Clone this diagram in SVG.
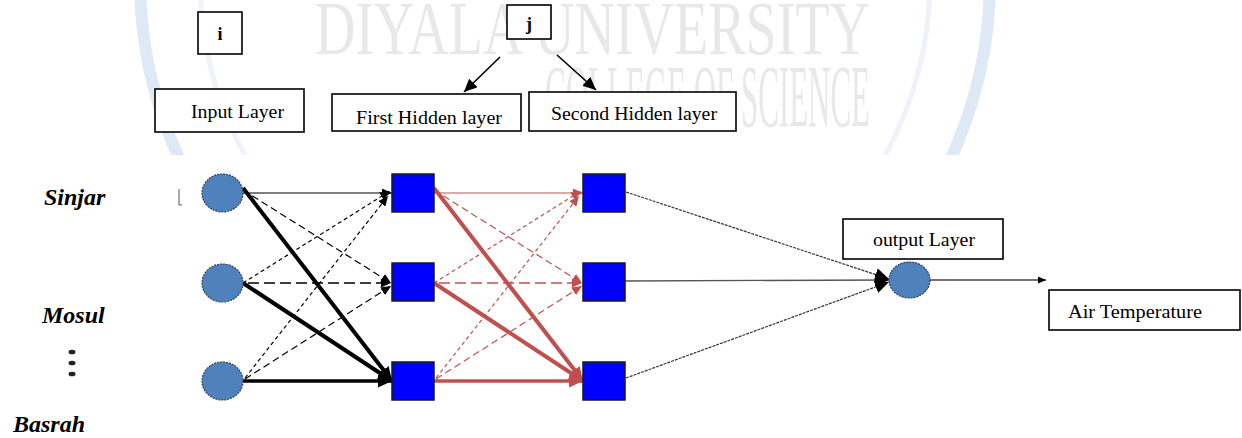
<svg xmlns="http://www.w3.org/2000/svg" width="1242" height="438" viewBox="0 0 1242 438">
  <style>
    .lbl { font-family: "Liberation Serif", "Times New Roman", serif; fill: #000; }
    .city { font-family: "Liberation Serif", "Times New Roman", serif; font-weight: bold; font-style: italic; font-size: 24px; fill: #000; }
    .box { fill: #fff; stroke: #000; stroke-width: 1.6; }
    .inp { fill: #4f81bd; stroke: #2f3f55; stroke-width: 1.2; stroke-dasharray: 2 1; }
    .sq { fill: #0000ff; stroke: #1a1a1a; stroke-width: 1.5; }
    .k { stroke: #000; fill: none; }
    .r { stroke: #c0504d; fill: none; }
    .thin { stroke-width: 1.2; }
    .thick { stroke-width: 4; }
    .d1 { stroke-dasharray: 4 3; }
    .d2 { stroke-dasharray: 7 4; }
    .d3 { stroke-dasharray: 11 5; }
    .wm { font-family: "Liberation Serif", "Times New Roman", serif; fill: #e8e8e8; }
  </style>
  <defs>
    <marker id="ak" markerUnits="userSpaceOnUse" markerWidth="11" markerHeight="9" refX="10" refY="4.5" orient="auto">
      <path d="M0,0 L10,4.5 L0,9 z" fill="#000"/>
    </marker>
    <marker id="akB" markerUnits="userSpaceOnUse" markerWidth="15" markerHeight="13" refX="14" refY="6.5" orient="auto">
      <path d="M0,0 L14,6.5 L0,13 z" fill="#000"/>
    </marker>
    <marker id="ar" markerUnits="userSpaceOnUse" markerWidth="11" markerHeight="9" refX="10" refY="4.5" orient="auto">
      <path d="M0,0 L10,4.5 L0,9 z" fill="#c0504d"/>
    </marker>
    <marker id="arB" markerUnits="userSpaceOnUse" markerWidth="15" markerHeight="13" refX="14" refY="6.5" orient="auto">
      <path d="M0,0 L14,6.5 L0,13 z" fill="#c0504d"/>
    </marker>
    <marker id="aj" markerUnits="userSpaceOnUse" markerWidth="14" markerHeight="12" refX="13" refY="6" orient="auto">
      <path d="M0,0 L13,6 L0,12 z" fill="#000"/>
    </marker>
    <marker id="as" markerUnits="userSpaceOnUse" markerWidth="9" markerHeight="7" refX="8" refY="3.5" orient="auto">
      <path d="M0,0 L8,3.5 L0,7 z" fill="#000"/>
    </marker>
    <clipPath id="wmclip"><rect x="0" y="0" width="1242" height="155"/></clipPath>
  </defs>

  <rect x="0" y="0" width="1242" height="438" fill="#fff"/>

  <!-- faint watermark -->
  <g id="watermark">
    <g clip-path="url(#wmclip)">
      <circle cx="565" cy="-20" r="425" fill="none" stroke="#dfe9f6" stroke-width="12"/>
      <circle cx="565" cy="-20" r="365" fill="none" stroke="#eef3fa" stroke-width="5"/>
    </g>
    <text class="wm" transform="translate(315,54) scale(1,1.4)" x="0" y="0" font-size="55" textLength="555" lengthAdjust="spacingAndGlyphs">DIYALA UNIVERSITY</text>
    <text class="wm" transform="translate(545,126) scale(1,2.9)" x="0" y="0" font-size="31" textLength="325" lengthAdjust="spacingAndGlyphs">COLLEGE OF SCIENCE</text>
  </g>

  <!-- header boxes -->
  <g id="box-i"><rect class="box" x="198" y="12" width="44" height="42"/><text class="lbl" x="220" y="40" font-size="18" font-weight="bold" text-anchor="middle">i</text></g>
  <g id="box-j"><rect class="box" x="507" y="5" width="44" height="34"/><text class="lbl" x="529" y="30" font-size="18" font-weight="bold" text-anchor="middle">j</text></g>
  <g id="box-input"><rect class="box" x="155" y="89" width="149" height="43"/><text class="lbl" x="191" y="118" font-size="19" textLength="93" lengthAdjust="spacingAndGlyphs">Input Layer</text></g>
  <g id="box-hidden1"><rect class="box" x="332" y="94" width="189" height="37"/><text class="lbl" x="356" y="124" font-size="18" textLength="146" lengthAdjust="spacingAndGlyphs">First Hidden layer</text></g>
  <g id="box-hidden2"><rect class="box" x="529" y="92" width="207" height="39"/><text class="lbl" x="551" y="120" font-size="19" textLength="166" lengthAdjust="spacingAndGlyphs">Second Hidden layer</text></g>
  <g id="box-output"><rect class="box" x="843" y="219" width="160" height="40"/><text class="lbl" x="873" y="246" font-size="19" textLength="102" lengthAdjust="spacingAndGlyphs">output Layer</text></g>
  <g id="box-air"><rect class="box" x="1049" y="290" width="191" height="40"/><text class="lbl" x="1068" y="318" font-size="18" textLength="134" lengthAdjust="spacingAndGlyphs">Air Temperature</text></g>

  <!-- city labels -->
  <g id="labels">
    <text class="city" x="44" y="205">Sinjar</text>
    <text class="city" x="42" y="323">Mosul</text>
    <text class="city" x="13" y="432">Basrah</text>
    <ellipse cx="72" cy="352" rx="3.5" ry="2.3" fill="#222"/>
    <ellipse cx="72" cy="363" rx="3.5" ry="2.3" fill="#222"/>
    <ellipse cx="72" cy="374" rx="3.5" ry="2.3" fill="#222"/>
    <path d="M179,189 V205 H182" fill="none" stroke="#555" stroke-width="1"/>
  </g>

  <!-- connectors -->
  <g id="connectors">
    <!-- j arrows -->
    <line class="k" stroke-width="1.6" x1="500" y1="57" x2="464" y2="92" marker-end="url(#aj)"/>
    <line class="k" stroke-width="1.6" x1="557" y1="55" x2="596" y2="90" marker-end="url(#aj)"/>

    <!-- input -> hidden1 -->
    <line class="k thin" x1="243" y1="193" x2="392" y2="193" marker-end="url(#ak)"/>
    <line class="k thin d1" x1="243" y1="283" x2="390" y2="191" marker-end="url(#ak)"/>
    <line class="k thin d1" x1="245" y1="378" x2="388" y2="196" marker-end="url(#ak)"/>
    <line class="k thin d2" x1="243" y1="190" x2="391" y2="283" marker-end="url(#ak)"/>
    <line class="k d3" stroke-width="1.3" x1="232" y1="283" x2="391" y2="283" marker-end="url(#ak)"/>
    <line class="k thin d2" x1="245" y1="379" x2="391" y2="286" marker-end="url(#ak)"/>
    <line class="k thick" x1="243" y1="188" x2="392" y2="381" marker-end="url(#akB)"/>
    <line class="k thick" x1="243" y1="283" x2="392" y2="381" marker-end="url(#akB)"/>
    <line class="k" stroke-width="3.5" x1="243" y1="381" x2="392" y2="381" marker-end="url(#akB)"/>

    <!-- hidden1 -> hidden2 -->
    <line class="r thin" x1="434" y1="193" x2="583" y2="193" marker-end="url(#ar)"/>
    <line class="r thin d1" x1="434" y1="283" x2="581" y2="191" marker-end="url(#ar)"/>
    <line class="r thin d1" x1="436" y1="378" x2="579" y2="196" marker-end="url(#ar)"/>
    <line class="r thin d2" x1="434" y1="190" x2="582" y2="283" marker-end="url(#ar)"/>
    <line class="r d3" stroke-width="1.3" x1="423" y1="283" x2="582" y2="283" marker-end="url(#ar)"/>
    <line class="r thin d2" x1="436" y1="379" x2="582" y2="286" marker-end="url(#ar)"/>
    <line class="r thick" x1="434" y1="188" x2="583" y2="381" marker-end="url(#arB)"/>
    <line class="r thick" x1="434" y1="283" x2="583" y2="381" marker-end="url(#arB)"/>
    <line class="r" stroke-width="3.5" x1="434" y1="381" x2="583" y2="381" marker-end="url(#arB)"/>

    <!-- hidden2 -> output -->
    <line stroke="#333" stroke-width="1.2" stroke-dasharray="3 1" x1="626" y1="192" x2="889" y2="279" marker-end="url(#akB)"/>
    <line stroke="#555" stroke-width="1.3" x1="625" y1="281" x2="889" y2="280" marker-end="url(#akB)"/>
    <line stroke="#333" stroke-width="1.2" stroke-dasharray="3 1" x1="626" y1="378" x2="889" y2="282" marker-end="url(#akB)"/>

    <!-- output -> result -->
    <line stroke="#444" stroke-width="1.3" x1="930" y1="280" x2="1046" y2="280" marker-end="url(#as)"/>
  </g>

  <!-- input nodes -->
  <g id="in-1"><ellipse class="inp" cx="222.5" cy="193" rx="20.5" ry="19"/></g>
  <g id="in-2"><ellipse class="inp" cx="222.5" cy="283" rx="20.5" ry="19"/></g>
  <g id="in-3"><ellipse class="inp" cx="222.5" cy="381" rx="20.5" ry="19"/></g>

  <!-- hidden layer 1 -->
  <g id="h1-1"><rect class="sq" x="392" y="174" width="42" height="38"/></g>
  <g id="h1-2"><rect class="sq" x="392" y="263" width="42" height="38"/></g>
  <g id="h1-3"><rect class="sq" x="392" y="362" width="42" height="38"/></g>

  <!-- hidden layer 2 -->
  <g id="h2-1"><rect class="sq" x="583" y="174" width="42" height="38"/></g>
  <g id="h2-2"><rect class="sq" x="583" y="263" width="42" height="38"/></g>
  <g id="h2-3"><rect class="sq" x="583" y="362" width="42" height="38"/></g>

  <!-- output node -->
  <g id="out"><ellipse class="inp" cx="909.5" cy="280" rx="20.5" ry="18"/></g>
</svg>
